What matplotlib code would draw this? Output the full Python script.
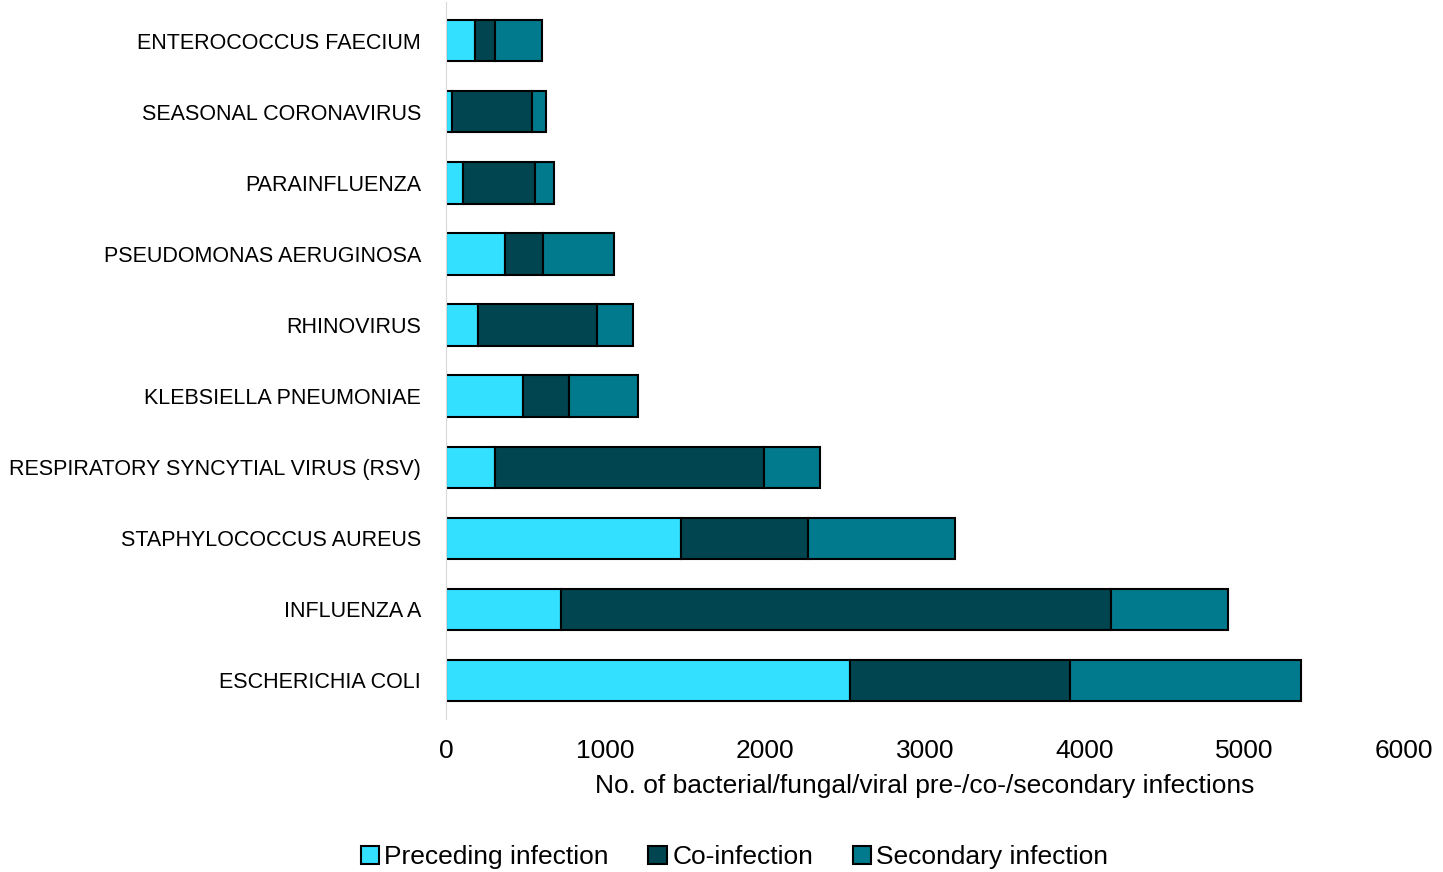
import matplotlib
matplotlib.use("Agg")
import matplotlib.pyplot as plt
import numpy as np

plt.rcParams["font.family"] = ["Liberation Sans", "DejaVu Sans"]

pathogens = ["ESCHERICHIA COLI", "INFLUENZA A", "STAPHYLOCOCCUS AUREUS",
             "RESPIRATORY SYNCYTIAL VIRUS (RSV)", "KLEBSIELLA PNEUMONIAE", "RHINOVIRUS",
             "PSEUDOMONAS AERUGINOSA", "PARAINFLUENZA", "SEASONAL CORONAVIRUS",
             "ENTEROCOCCUS FAECIUM"]
preceding = [2528, 720, 1470, 310, 480, 200, 370, 105, 40, 180]
coinf = [1383, 3448, 795, 1685, 290, 745, 235, 450, 500, 130]
secondary = [1446, 732, 920, 345, 430, 225, 445, 125, 85, 290]

fig, ax = plt.subplots(figsize=(14.43, 8.72), dpi=100)
y = np.arange(len(pathogens))
p = np.array(preceding); c = np.array(coinf); s = np.array(secondary)
kw = dict(height=0.58, edgecolor="black", linewidth=1.5)
ax.barh(y, p, color="#33E0FF", label="Preceding infection", **kw)
ax.barh(y, c, left=p, color="#004550", label="Co-infection", **kw)
ax.barh(y, s, left=p + c, color="#007A8C", label="Secondary infection", **kw)

ax.set_yticks(y)
ax.set_yticklabels(pathogens, fontsize=15.5)
ax.set_xlim(0, 6000)
ax.set_ylim(-0.55, 9.55)
ax.set_xticks(range(0, 6001, 1000))
ax.tick_params(axis="x", labelsize=19, length=0, pad=14)
ax.tick_params(axis="y", length=0, pad=18)
ax.set_xlabel("No. of bacterial/fungal/viral pre-/co-/secondary infections", fontsize=19, labelpad=8)
for sp in ["top", "right", "bottom"]:
    ax.spines[sp].set_visible(False)
ax.spines["left"].set_color("#d9d9d9")
fig.legend(loc="center", bbox_to_anchor=(0.509, 0.017), ncol=3, frameon=False,
           fontsize=19, handlelength=0.7, handleheight=0.7, handletextpad=0.2, columnspacing=1.5)
plt.subplots_adjust(left=0.309, right=0.973, top=0.998, bottom=0.175)
fig.savefig("out.png")
